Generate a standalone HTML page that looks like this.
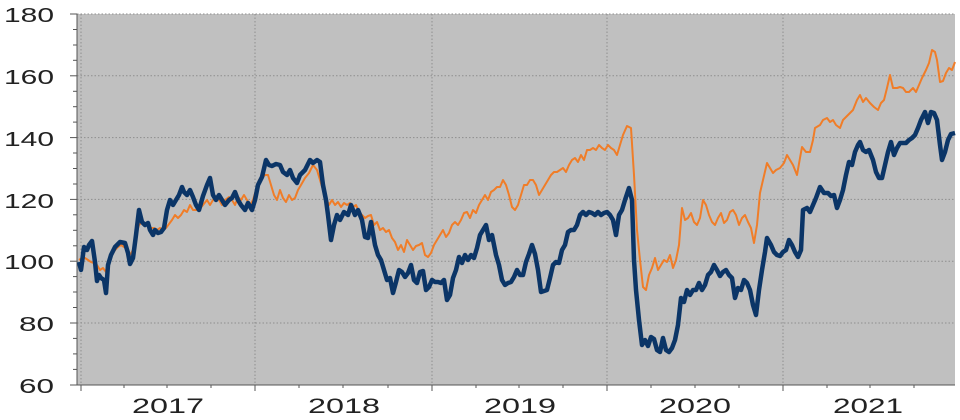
<!DOCTYPE html>
<html><head><meta charset="utf-8"><style>
html,body{margin:0;padding:0;background:#fff;width:960px;height:420px;overflow:hidden}
text{font-family:"Liberation Sans",sans-serif;fill:#222}
</style></head><body>
<svg width="960" height="420" viewBox="0 0 960 420" xmlns="http://www.w3.org/2000/svg">
<rect x="77" y="14" width="878" height="371" fill="#c0c0c0"/>
<g stroke="#8e8e8e" stroke-width="1" stroke-dasharray="1.5,2">
<line x1="77" y1="14" x2="955" y2="14"/>
<line x1="77" y1="75.8" x2="955" y2="75.8"/>
<line x1="77" y1="137.6" x2="955" y2="137.6"/>
<line x1="77" y1="199.4" x2="955" y2="199.4"/>
<line x1="77" y1="261.2" x2="955" y2="261.2"/>
<line x1="77" y1="323" x2="955" y2="323"/>
<line x1="81" y1="14" x2="81" y2="385"/>
<line x1="255" y1="14" x2="255" y2="385"/>
<line x1="432" y1="14" x2="432" y2="385"/>
<line x1="607" y1="14" x2="607" y2="385"/>
<line x1="783" y1="14" x2="783" y2="385"/>
</g>
<g stroke="#555" stroke-width="1">
<line x1="77" y1="14" x2="77" y2="385"/>
<line x1="77" y1="385" x2="955" y2="385"/>
<line x1="70" y1="14" x2="77" y2="14"/><line x1="70" y1="75.8" x2="77" y2="75.8"/><line x1="70" y1="137.6" x2="77" y2="137.6"/><line x1="70" y1="199.4" x2="77" y2="199.4"/><line x1="70" y1="261.2" x2="77" y2="261.2"/><line x1="70" y1="323" x2="77" y2="323"/><line x1="70" y1="385" x2="77" y2="385"/>
<line x1="73" y1="29.5" x2="77" y2="29.5"/><line x1="73" y1="45" x2="77" y2="45"/><line x1="73" y1="60.3" x2="77" y2="60.3"/>
<line x1="73" y1="91.3" x2="77" y2="91.3"/><line x1="73" y1="106.7" x2="77" y2="106.7"/><line x1="73" y1="122.1" x2="77" y2="122.1"/>
<line x1="73" y1="153" x2="77" y2="153"/><line x1="73" y1="168.5" x2="77" y2="168.5"/><line x1="73" y1="184" x2="77" y2="184"/>
<line x1="73" y1="214.8" x2="77" y2="214.8"/><line x1="73" y1="230.3" x2="77" y2="230.3"/><line x1="73" y1="245.8" x2="77" y2="245.8"/>
<line x1="73" y1="276.6" x2="77" y2="276.6"/><line x1="73" y1="292" x2="77" y2="292"/><line x1="73" y1="307.5" x2="77" y2="307.5"/>
<line x1="73" y1="338.4" x2="77" y2="338.4"/><line x1="73" y1="353.9" x2="77" y2="353.9"/><line x1="73" y1="369.4" x2="77" y2="369.4"/>
<line x1="81" y1="385" x2="81" y2="391"/><line x1="255" y1="385" x2="255" y2="391"/><line x1="432" y1="385" x2="432" y2="391"/><line x1="607" y1="385" x2="607" y2="391"/><line x1="783" y1="385" x2="783" y2="391"/>
<line x1="124" y1="385" x2="124" y2="388"/><line x1="167" y1="385" x2="167" y2="388"/><line x1="211" y1="385" x2="211" y2="388"/>
<line x1="299" y1="385" x2="299" y2="388"/><line x1="343" y1="385" x2="343" y2="388"/><line x1="388" y1="385" x2="388" y2="388"/>
<line x1="476" y1="385" x2="476" y2="388"/><line x1="519" y1="385" x2="519" y2="388"/><line x1="563" y1="385" x2="563" y2="388"/>
<line x1="651" y1="385" x2="651" y2="388"/><line x1="695" y1="385" x2="695" y2="388"/><line x1="739" y1="385" x2="739" y2="388"/>
<line x1="827" y1="385" x2="827" y2="388"/><line x1="870" y1="385" x2="870" y2="388"/><line x1="914" y1="385" x2="914" y2="388"/>
</g>
<g font-size="20" lengthAdjust="spacingAndGlyphs">
<text x="4" y="22" textLength="50" lengthAdjust="spacingAndGlyphs">180</text>
<text x="4" y="84" textLength="50" lengthAdjust="spacingAndGlyphs">160</text>
<text x="4" y="146" textLength="50" lengthAdjust="spacingAndGlyphs">140</text>
<text x="4" y="208" textLength="50" lengthAdjust="spacingAndGlyphs">120</text>
<text x="4" y="269" textLength="50" lengthAdjust="spacingAndGlyphs">100</text>
<text x="19" y="331" textLength="35" lengthAdjust="spacingAndGlyphs">80</text>
<text x="19" y="393" textLength="35" lengthAdjust="spacingAndGlyphs">60</text>
</g>
<g font-size="21">
<text x="132" y="413" textLength="72" lengthAdjust="spacingAndGlyphs">2017</text>
<text x="308" y="413" textLength="72" lengthAdjust="spacingAndGlyphs">2018</text>
<text x="484" y="413" textLength="72" lengthAdjust="spacingAndGlyphs">2019</text>
<text x="659" y="413" textLength="72" lengthAdjust="spacingAndGlyphs">2020</text>
<text x="833" y="413" textLength="70" lengthAdjust="spacingAndGlyphs">2021</text>
</g>
<polyline fill="none" stroke="#f07d28" stroke-width="2" stroke-linejoin="round" points="79,260 82,258 85,258 88,260 91,262 94,263 97,265 100,270 103,268 106,272 109,260 112,255 115,250 118,247 121,245 124,247 127,248 130,255 133,250 136,235 139,225 142,222 145,223 148,224 151,228 154,228 157,230 160,228 163,230 166,228 169,224 172,220 175,215 178,218 181,215 184,210 187,212 190,205 193,210 196,210 199,210 203,205 207,200 210,205 213,200 216,198 219,200 222,205 225,200 229,197 232,200 235,205 238,197 241,200 244,195 247,200 250,205 253,200 256,190 259,180 262,178 265,175 268,175 271,185 274,195 277,200 280,190 283,198 286,202 289,195 292,200 295,198 298,190 301,185 305,178 309,173 313,165 317,170 320,180 323,190 326,198 329,205 332,200 335,205 338,202 341,207 344,203 347,205 350,203 353,207 356,205 359,212 362,215 365,218 368,216 371,215 374,225 377,222 380,230 383,228 386,232 389,230 392,238 395,242 398,250 401,245 404,252 407,240 410,245 413,250 416,246 419,245 422,243 425,255 428,257 431,253 434,245 437,240 440,235 443,230 446,237 449,233 452,225 455,222 458,225 461,220 464,213 467,212 470,218 473,210 476,213 479,205 482,200 485,195 488,200 491,192 494,190 497,187 500,187 503,180 506,185 509,195 512,207 515,210 518,205 521,195 524,185 527,185 530,180 533,180 536,185 539,195 542,190 545,185 548,180 551,175 554,172 557,172 560,170 563,168 566,172 569,165 572,160 575,158 578,162 581,155 584,160 587,150 590,150 593,148 596,150 599,145 602,148 605,150 608,145 611,148 614,150 617,155 620,145 623,135 627,126 631,128 634,175 637,230 640,260 643,287 646,290 649,275 652,268 655,258 658,270 661,265 664,260 667,262 670,255 673,268 676,260 679,245 682,208 685,220 688,218 691,213 694,222 697,225 700,218 703,200 706,205 709,215 712,222 715,225 718,218 721,213 724,223 727,220 730,212 733,210 736,215 739,225 742,218 745,215 748,222 751,228 754,243 757,225 760,193 763,180 767,163 770,168 773,173 776,170 780,168 784,163 787,155 790,160 793,165 797,175 800,158 802,147 806,152 810,152 813,140 815,128 820,125 823,120 827,118 830,122 833,120 836,125 840,128 843,120 847,116 850,113 853,110 857,100 860,95 863,102 866,98 870,103 874,107 878,110 881,103 884,100 887,88 890,75 893,88 897,88 900,87 903,88 906,92 909,92 913,88 916,92 919,85 922,78 926,70 929,63 932,50 935,52 937,60 940,82 943,81 946,73 949,68 952,70 955,62"/>
<polyline fill="none" stroke="#0b3567" stroke-width="4.5" stroke-linejoin="round" points="79,262 81,270 84,247 87,250 89,245 92,241 95,262 97,281 99,275 101,278 104,280 106,293 108,265 111,255 115,247 120,242 125,243 128,253 130,264 133,258 136,235 139,210 142,222 145,225 148,223 150,230 153,235 155,230 158,233 161,232 164,228 167,210 170,200 173,205 176,200 179,195 182,187 184,192 187,195 190,190 193,197 196,205 199,210 203,196 207,185 210,178 213,195 216,200 219,195 222,200 225,205 229,200 232,198 235,192 238,200 241,205 245,210 248,203 252,210 255,200 258,185 262,177 266,160 269,165 272,166 276,164 280,165 283,172 287,175 290,170 293,178 297,183 300,175 305,170 310,160 313,163 317,160 320,162 323,185 326,200 328,215 331,240 334,225 337,215 340,220 344,212 348,215 351,205 355,215 358,210 362,220 365,237 368,238 371,222 375,245 378,255 381,260 384,270 387,280 390,278 393,293 396,282 399,270 402,272 405,277 408,273 411,265 414,280 417,283 420,272 423,271 426,290 429,287 432,280 435,282 438,282 441,283 444,280 447,300 450,295 453,278 456,270 459,257 462,263 465,255 468,260 471,255 474,258 477,248 480,235 483,230 486,225 489,240 492,235 496,255 499,265 502,280 505,285 508,283 511,282 514,277 517,270 520,275 523,275 526,262 529,254 532,245 535,254 538,270 541,292 544,291 547,290 550,278 553,265 556,262 559,263 562,250 565,245 568,232 571,230 574,230 577,225 580,215 583,212 586,215 589,212 592,213 595,215 598,212 601,215 604,213 607,212 610,215 613,220 616,235 619,215 622,210 625,200 629,188 632,200 634,260 636,290 639,320 642,345 645,340 648,346 651,337 654,339 657,350 660,352 663,338 666,350 669,352 672,348 675,340 678,325 681,298 684,302 687,290 690,295 693,290 696,290 699,283 702,290 705,285 708,275 711,272 714,265 717,270 720,276 723,272 726,270 729,275 732,278 735,298 738,288 741,290 744,280 747,283 750,290 753,305 756,315 759,290 762,270 765,252 767,238 771,245 774,252 777,255 780,256 783,252 786,250 789,240 792,245 795,252 798,257 801,250 803,210 807,208 810,212 813,205 816,198 820,187 824,193 828,193 831,196 834,195 837,208 840,200 843,190 846,175 849,162 852,165 855,152 858,145 860,142 863,150 866,152 869,150 873,160 876,172 879,178 882,178 885,165 888,152 891,142 894,155 897,148 900,143 903,143 906,143 909,140 912,138 915,135 918,128 921,120 925,112 928,123 931,112 934,113 937,120 940,145 942,160 945,152 948,140 951,134 955,133"/>
</svg>
</body></html>
